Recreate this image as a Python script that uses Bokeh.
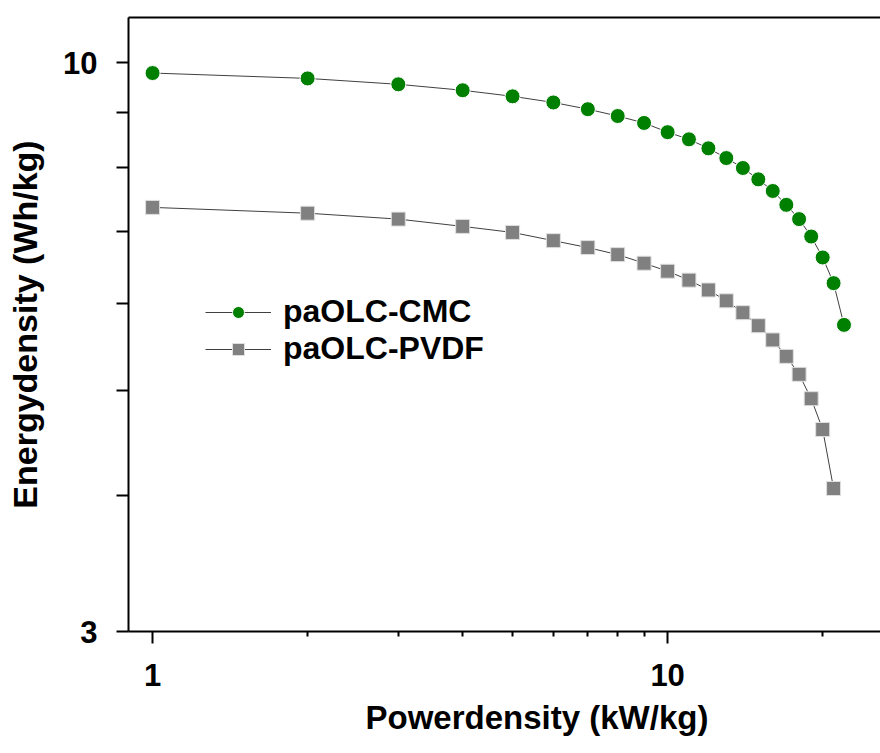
from bokeh.plotting import figure
from bokeh.models import Range1d, FixedTicker, LogAxis, Legend, LegendItem, Title
from bokeh.embed import file_html
from bokeh.resources import INLINE

# ---- data ----
power_cmc = [1, 2, 3, 4, 5, 6, 7, 8, 9, 10, 11, 12, 13, 14, 15, 16, 17, 18, 19, 20, 21, 22]
energy_cmc = [9.78, 9.67, 9.55, 9.43, 9.31, 9.19, 9.06, 8.93, 8.80, 8.63, 8.50, 8.34,
              8.17, 8.00, 7.81, 7.62, 7.40, 7.18, 6.92, 6.62, 6.27, 5.74]
power_pvdf = [1, 2, 3, 4, 5, 6, 7, 8, 9, 10, 11, 12, 13, 14, 15, 16, 17, 18, 19, 20, 21]
energy_pvdf = [7.36, 7.27, 7.18, 7.07, 6.98, 6.86, 6.76, 6.66, 6.54, 6.43, 6.31, 6.18,
               6.04, 5.89, 5.73, 5.56, 5.37, 5.17, 4.91, 4.60, 4.06]
series_names = ["paOLC-CMC", "paOLC-PVDF"]
x_major_ticks = [1, 10]
x_tick_labels = ["1", "10"]
x_minor_ticks = [2, 3, 4, 5, 6, 7, 8, 9, 20]
y_major_ticks = [3, 10]
y_tick_labels = ["3", "10"]
y_minor_ticks = [4, 5, 6, 7, 8, 9]
x_title = "Powerdensity (kW/kg)"
y_title = "Energydensity (Wh/kg)"

X_START, X_END = 0.898, 25.9
Y_START, Y_END = 3.0, 11.0

FONT = "Liberation Sans"

p = figure(width=880, height=753, x_axis_type="log", y_axis_type="log",
           x_range=Range1d(X_START, X_END), y_range=Range1d(Y_START, Y_END),
           output_backend="svg", toolbar_location=None,
           x_axis_location=None, y_axis_location=None)
p.min_border_left = 128
p.min_border_right = 0
p.min_border_top = 17
p.min_border_bottom = 122
p.outline_line_color = None
p.xgrid.visible = False
p.ygrid.visible = False
p.background_fill_color = "white"
p.border_fill_color = "white"

xt = FixedTicker(ticks=x_major_ticks, minor_ticks=x_minor_ticks)
yt = FixedTicker(ticks=y_major_ticks, minor_ticks=y_minor_ticks)

def style_ticklabels(ax):
    ax.major_label_text_font = FONT
    ax.major_label_text_font_style = "bold"
    ax.major_label_text_font_size = "31px"
    ax.major_label_text_color = "black"

def hide_labels(ax):
    ax.major_label_text_font_size = "1px"
    ax.major_label_text_alpha = 0
    ax.major_label_standoff = 0

# bottom axis
xb = LogAxis(ticker=xt)
xb.major_label_overrides = {t: s for t, s in zip(x_major_ticks, x_tick_labels)}
style_ticklabels(xb)
xb.axis_line_width = 2
xb.major_tick_line_width = 2
xb.minor_tick_line_width = 2
xb.major_tick_out = 12
xb.major_tick_in = 0
xb.minor_tick_out = 5
xb.minor_tick_in = 0
xb.major_label_standoff = 20
p.add_layout(xb, "below")

# x title placed like the reference
xtitle = Title(text=x_title, align="left", offset=237, standoff=16,
               text_font=FONT, text_font_style="bold", text_font_size="33px",
               text_color="black")
p.add_layout(xtitle, "below")

# top axis line
xtop = LogAxis(ticker=xt)
hide_labels(xtop)
xtop.axis_line_width = 2
xtop.major_tick_line_color = None
xtop.minor_tick_line_color = None
p.add_layout(xtop, "above")

# left axis
yl = LogAxis(ticker=yt, axis_label=y_title)
yl.major_label_overrides = {t: s for t, s in zip(y_major_ticks, y_tick_labels)}
style_ticklabels(yl)
yl.axis_label_text_font = FONT
yl.axis_label_text_font_style = "bold"
yl.axis_label_text_font_size = "34px"
yl.axis_label_text_color = "black"
yl.axis_line_width = 2
yl.major_tick_line_width = 2
yl.minor_tick_line_width = 2
yl.major_tick_out = 12
yl.major_tick_in = 0
yl.minor_tick_out = 12
yl.minor_tick_in = 0
yl.major_label_standoff = 19
yl.axis_label_standoff = 16
p.add_layout(yl, "left")

# series
l1 = p.line(power_cmc, energy_cmc, line_color="#404040", line_width=1)
s1 = p.scatter(power_cmc, energy_cmc, marker="circle", size=15,
               fill_color="#008000", line_color="white", line_width=1)
l2 = p.line(power_pvdf, energy_pvdf, line_color="#404040", line_width=1)
s2 = p.scatter(power_pvdf, energy_pvdf, marker="square", size=14,
               fill_color="#808080", line_color="#e0e0e0", line_width=1)

legend = Legend(items=[LegendItem(label=series_names[0], renderers=[l1, s1]),
                       LegendItem(label=series_names[1], renderers=[l2, s2])],
                location=(77, 264))
legend.label_text_font = FONT
legend.label_text_font_style = "bold"
legend.label_text_font_size = "32px"
legend.label_text_color = "black"
legend.glyph_width = 66
legend.glyph_height = 30
legend.label_standoff = 12
legend.spacing = -1
legend.padding = 0
legend.margin = 0
legend.border_line_color = None
legend.background_fill_alpha = 0
p.add_layout(legend, "center")

open("out.html", "w").write(file_html(p, INLINE))
